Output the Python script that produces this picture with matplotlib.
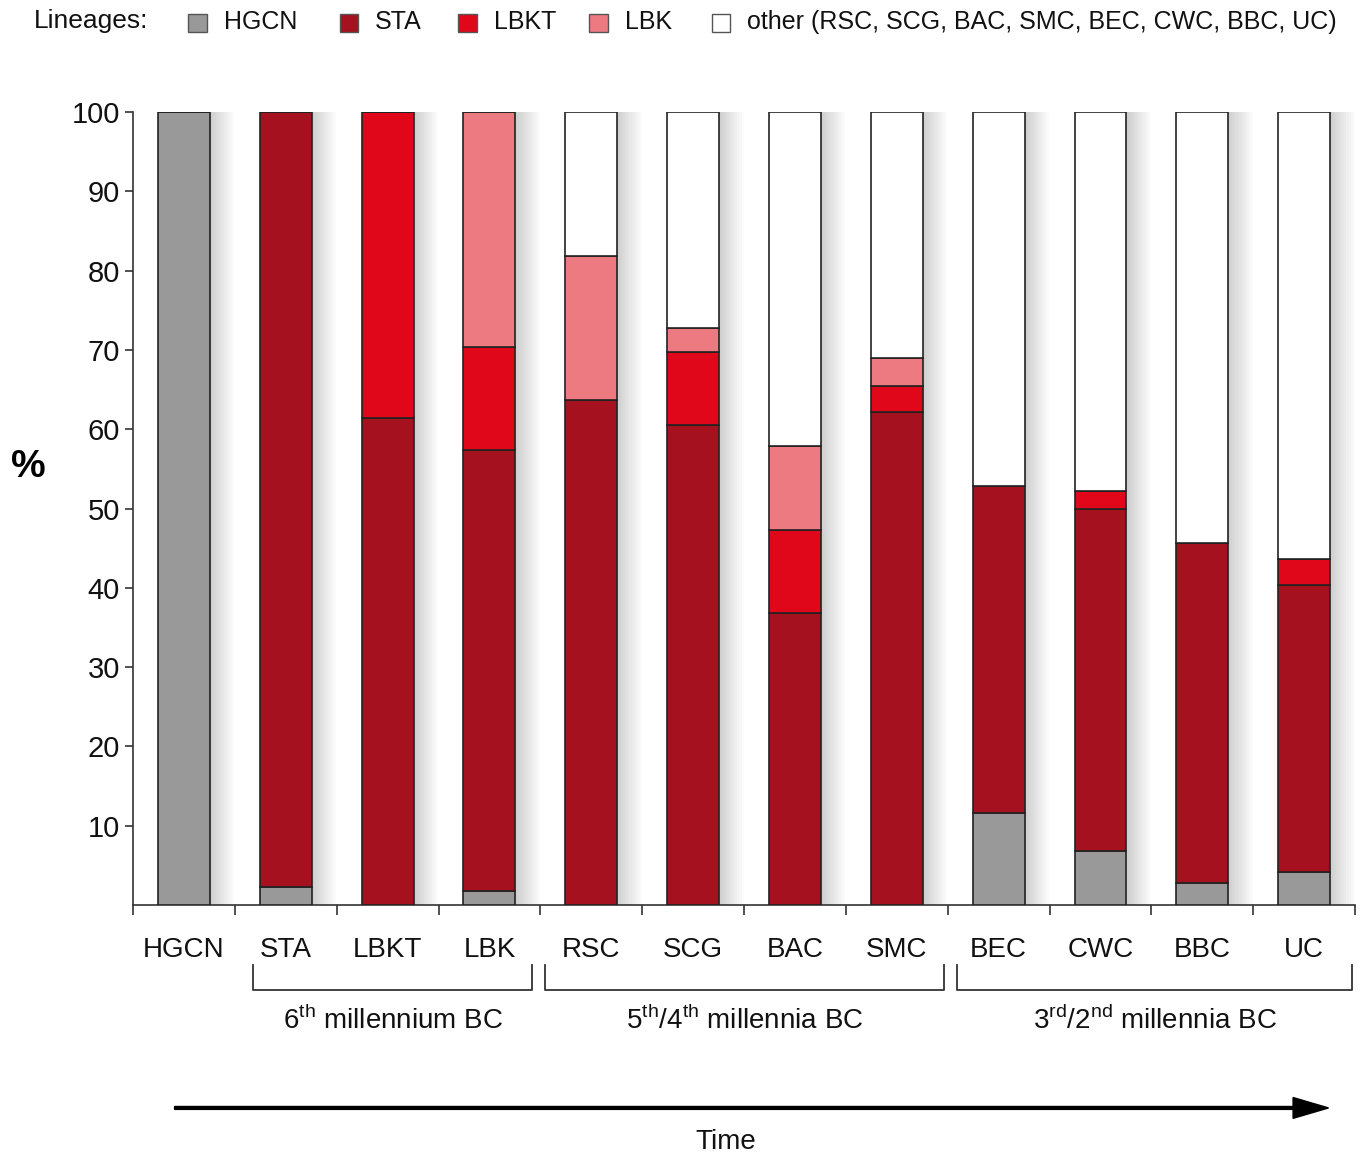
import matplotlib
matplotlib.use("Agg")
import matplotlib.pyplot as plt
from matplotlib.patches import Rectangle
import numpy as np

plt.rcParams['font.family'] = ['Liberation Sans', 'DejaVu Sans']
plt.rcParams['mathtext.fontset'] = 'custom'
plt.rcParams['mathtext.rm'] = 'Liberation Sans'

# data: percentage of each lineage per culture
cultures = ['HGCN', 'STA', 'LBKT', 'LBK', 'RSC', 'SCG', 'BAC', 'SMC', 'BEC', 'CWC', 'BBC', 'UC']
hgcn  = [100, 2.3, 0, 1.8, 0, 0, 0, 0, 11.6, 6.8, 2.8, 4.2]
sta   = [0, 97.7, 61.4, 55.6, 63.7, 60.5, 36.8, 62.2, 41.2, 43.1, 42.8, 36.2]
lbkt  = [0, 0, 38.6, 13.0, 0, 9.2, 10.5, 3.2, 0, 2.3, 0, 3.2]
lbk   = [0, 0, 0, 29.6, 18.1, 3.1, 10.6, 3.6, 0, 0, 0, 0]
other = [0, 0, 0, 0, 18.2, 27.2, 42.1, 31.0, 47.2, 47.8, 54.4, 56.4]

series = [hgcn, sta, lbkt, lbk, other]
series_names = ['HGCN', 'STA', 'LBKT', 'LBK', 'other (RSC, SCG, BAC, SMC, BEC, CWC, BBC, UC)']
colors = ['#999999', '#A5111E', '#E1071A', '#EC7A80', '#FFFFFF']

groups = [(r'6$^{\rm th}$ millennium BC', 0.68, 3.42),
          (r'5$^{\rm th}$/4$^{\rm th}$ millennia BC', 3.55, 7.46),
          (r'3$^{\rm rd}$/2$^{\rm nd}$ millennia BC', 7.59, 11.47)]

fig = plt.figure(figsize=(13.64, 11.57), dpi=100)
ax = fig.add_axes([0.0975, 0.2178, 0.896, 0.6854])

x = np.arange(len(cultures))
width = 0.51

# soft shadow to the right of each bar
for k in range(1, 13):
    ax.bar(x + k * 0.02, 100, width, color='black', alpha=0.016, lw=0, zorder=1)

bottom = np.zeros(len(cultures))
for vals, col in zip(series, colors):
    vals = np.array(vals, dtype=float)
    ax.bar(x, vals, width, bottom=bottom, color=col, edgecolor='#222222', linewidth=1.2, zorder=3)
    bottom += vals

ax.set_xlim(-0.5, 11.5)
ax.set_ylim(0, 100)
ax.set_yticks(range(10, 101, 10))
ax.tick_params(axis='y', labelsize=21, length=6, width=1.2, direction='out', color='#333333',
               labelcolor='#111111')
ax.set_xticks(x)
ax.set_xticklabels(cultures, fontsize=20, color='#111111')
ax.set_xticks(np.arange(-0.5, 12, 1), minor=True)
ax.tick_params(axis='x', which='major', length=0, pad=23)
ax.tick_params(axis='x', which='minor', length=7, width=1.2, color='#333333')
for s in ['top', 'right']:
    ax.spines[s].set_visible(False)
for s in ['left', 'bottom']:
    ax.spines[s].set_linewidth(1.2)
    ax.spines[s].set_color('#333333')

fig.text(0.021, 0.596, '%', fontsize=28, fontweight='bold', ha='center', va='center')

# period brackets
trans = ax.get_xaxis_transform()
for label, x0, x1 in groups:
    ax.plot([x0, x0, x1, x1], [-0.0757, -0.107, -0.107, -0.0757], color='#333333',
            lw=1.3, transform=trans, clip_on=False)
    ax.text((x0 + x1) / 2, -0.145, label, transform=trans, ha='center', va='center',
            fontsize=20, color='#111111')

# time arrow
fig.patches.append(matplotlib.patches.FancyArrow(0.128, 0.0424, 0.82, 0, width=0.0025,
                   head_width=0.018, head_length=0.026, length_includes_head=False,
                   color='black', transform=fig.transFigure))
fig.text(0.532, 0.013, 'Time', ha='center', va='center', fontsize=20, color='#111111')

# legend row
fig.text(0.025, 0.982, 'Lineages:', ha='left', va='center', fontsize=19, color='#111111')
leg_x = [0.138, 0.249, 0.336, 0.432, 0.522]
for lx, name, col in zip(leg_x, series_names, colors):
    fig.patches.append(Rectangle((lx, 0.972), 0.0135, 0.0155, transform=fig.transFigure,
                                 facecolor=col, edgecolor='#555555', lw=1))
    fig.text(lx + 0.026, 0.981, name, ha='left', va='center', fontsize=18, color='#111111')

plt.savefig('out.png', dpi=100)
